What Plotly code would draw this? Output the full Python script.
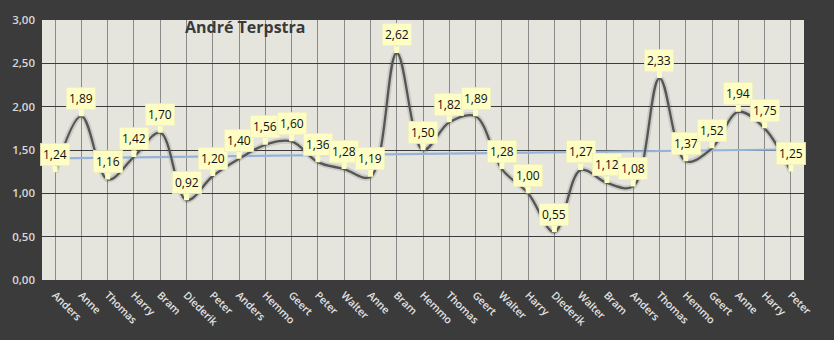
import numpy as np
import plotly.graph_objects as go

# Names per game (some repeat, so positions are indexed)
names = ["Anders", "Anne", "Thomas", "Harry", "Bram", "Diederik", "Peter",
         "Anders", "Hemmo", "Geert", "Peter", "Walter", "Anne", "Bram",
         "Hemmo", "Thomas", "Geert", "Walter", "Harry", "Diederik", "Walter",
         "Bram", "Anders", "Thomas", "Hemmo", "Geert", "Anne", "Harry", "Peter"]
scores = [1.24, 1.89, 1.16, 1.42, 1.70, 0.92, 1.20, 1.40, 1.56, 1.60, 1.36,
          1.28, 1.19, 2.62, 1.50, 1.82, 1.89, 1.28, 1.00, 0.55, 1.27, 1.12,
          1.08, 2.33, 1.37, 1.52, 1.94, 1.75, 1.25]
y_ticks = [0, 0.5, 1.0, 1.5, 2.0, 2.5, 3.0]

x = list(range(len(names)))

# Linear trend line through the scores
slope, intercept = np.polyfit(x, scores, 1)
trend = [intercept + slope * i for i in x]

fig = go.Figure()

# Soft shadow under the main line
fig.add_trace(go.Scatter(
    x=x, y=scores, mode="lines",
    line=dict(color="rgba(0,0,0,0.11)", width=6, shape="spline", smoothing=1),
    hoverinfo="skip", showlegend=False))

fig.add_trace(go.Scatter(
    x=x, y=trend, mode="lines",
    line=dict(color="#95b3d7", width=2.2),
    hoverinfo="skip", showlegend=False))

fig.add_trace(go.Scatter(
    x=x, y=scores, mode="lines",
    line=dict(color="#555555", width=2.3, shape="spline", smoothing=1),
    showlegend=False))

label_font = dict(family="Open Sans, Noto Sans, sans-serif", size=12, color="#111111")
annotations = []
for i, v in zip(x, scores):
    txt = f"{v:.2f}".replace(".", ",")
    annotations.append(dict(
        x=i, y=v, xref="x", yref="y", text=txt, showarrow=True,
        ax=0, ay=-18, axref="pixel", ayref="pixel",
        arrowhead=0, arrowwidth=5, arrowcolor="#fdfdc4",
        bgcolor="#fdfdc4", bordercolor="#e8e8b8", borderwidth=0.5,
        font=label_font, borderpad=2.5, standoff=0))

annotations.append(dict(
    x=0.267, y=0.972, xref="paper", yref="paper", showarrow=False,
    xanchor="center", yanchor="middle",
    text="<b>André Terpstra</b>",
    font=dict(family="Open Sans, Noto Sans, sans-serif", size=16, color="#3a3a3a")))

fig.update_layout(
    width=834, height=340,
    margin=dict(l=35, r=30, t=13, b=47),
    paper_bgcolor="#3b3b3b",
    plot_bgcolor="#e5e5de",
    separators=",.",
    annotations=annotations,
    xaxis=dict(
        tickmode="array", tickvals=x, ticktext=names,
        range=[-0.5, len(names) - 0.5],
        tickangle=45, showgrid=True, gridcolor="#8a8a8a", gridwidth=1,
        zeroline=False, showline=False, ticks="", ticklabelstandoff=6,
        tickfont=dict(family="Open Sans, Noto Sans, sans-serif", size=10.5,
                      color="#e2e2e2", weight=600),
    ),
    yaxis=dict(
        range=[0, 3], tickvals=y_ticks, tickformat=".2f",
        showgrid=True, gridcolor="#3c3c3c", gridwidth=1,
        zeroline=False, showline=False, ticks="", ticklabelstandoff=6,
        tickfont=dict(family="Open Sans, Noto Sans, sans-serif", size=11.5,
                      color="#d8d8d8", weight=600),
    ),
)

fig.write_html("out.html")
